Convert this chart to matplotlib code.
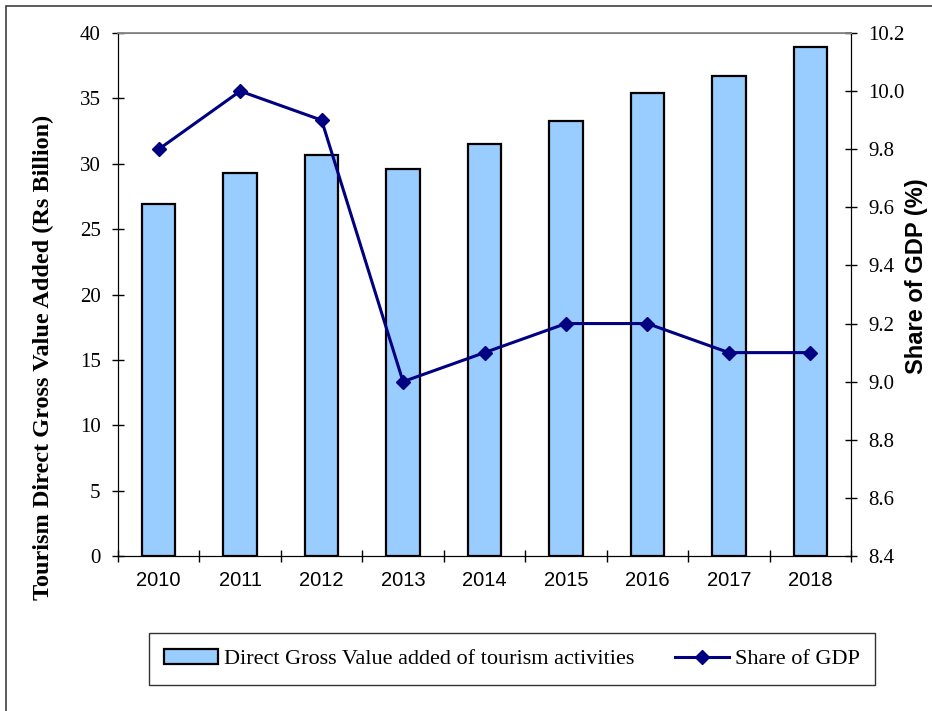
import numpy as np
import matplotlib.pyplot as plt
from matplotlib.patches import Rectangle

years = ["2010", "2011", "2012", "2013", "2014", "2015", "2016", "2017", "2018"]
gva = [26.9, 29.3, 30.7, 29.6, 31.5, 33.3, 35.4, 36.7, 38.9]
share = [9.8, 10.0, 9.9, 9.0, 9.1, 9.2, 9.2, 9.1, 9.1]

serif = "Liberation Serif"
sans = "Liberation Sans"


def main():
    fig = plt.figure(figsize=(9.32, 7.11), dpi=100)
    ax = fig.add_axes([118 / 932, 1 - 556 / 711, 733 / 932, 523 / 711])
    x = np.arange(len(years))

    bars = ax.bar(x, gva, width=0.41, color="#99CCFF", edgecolor="black",
                  linewidth=1.6, label="Direct Gross Value added of tourism activities",
                  zorder=2)
    ax.set_xlim(-0.5, len(years) - 0.5)
    ax.set_ylim(0, 40)
    ax.set_yticks(np.arange(0, 41, 5))
    ax.set_yticklabels([str(v) for v in range(0, 41, 5)], fontfamily=serif, fontsize=15)
    ax.set_xticks(x)
    ax.set_xticklabels(years, fontfamily=sans, fontsize=14.5)
    ax.tick_params(axis="x", length=0, pad=11)
    # boundary ticks between categories
    ax.set_xticks(np.arange(-0.5, len(years), 1), minor=True)
    ax.tick_params(axis="x", which="minor", direction="inout", length=9, width=1)
    ax.tick_params(axis="y", direction="inout", length=9, width=1, pad=8)
    ax.spines["top"].set_color("#808080")
    ax.spines["top"].set_linewidth(1.2)

    ax2 = ax.twinx()
    line, = ax2.plot(x, share, color="#000080", lw=2.2, marker="D", markersize=7.5,
                     label="Share of GDP", zorder=3)
    ax2.set_ylim(8.4, 10.2)
    yt = np.arange(8.4, 10.21, 0.2)
    ax2.set_yticks(yt)
    ax2.set_yticklabels(["%.1f" % v for v in yt], fontfamily=serif, fontsize=15)
    ax2.tick_params(axis="y", direction="inout", length=9, width=1, pad=8)
    ax2.spines["top"].set_color("#808080")

    # axis titles placed where the reference puts them
    fig.text(43 / 932, 1 - 357 / 711, "Tourism Direct Gross Value Added (Rs Billion)",
             rotation=90, ha="center", va="center", fontfamily=serif,
             fontweight="bold", fontsize=17.5)
    fig.text(917 / 932, 1 - 276 / 711, "Share of GDP (%)", rotation=90,
             ha="center", va="center", fontfamily=sans, fontweight="bold", fontsize=17)

    leg = fig.legend([bars, line], [bars.get_label(), line.get_label()], loc="center",
                     bbox_to_anchor=(512 / 932, 1 - 659 / 711), ncol=2, frameon=True,
                     fancybox=False, edgecolor="black", prop={"family": serif, "size": 16},
                     handlelength=2.4, columnspacing=1.85, borderpad=0.7,
                     handletextpad=0.27)
    leg.get_frame().set_linewidth(1.0)

    fig.patches.append(Rectangle((6 / 932, -0.1), 1.2, 1 - 6 / 711 + 0.1,
                                 transform=fig.transFigure, fill=False,
                                 edgecolor="#404040", linewidth=1.2))

    fig.savefig("out.png", dpi=100)


if __name__ == "__main__":
    main()
